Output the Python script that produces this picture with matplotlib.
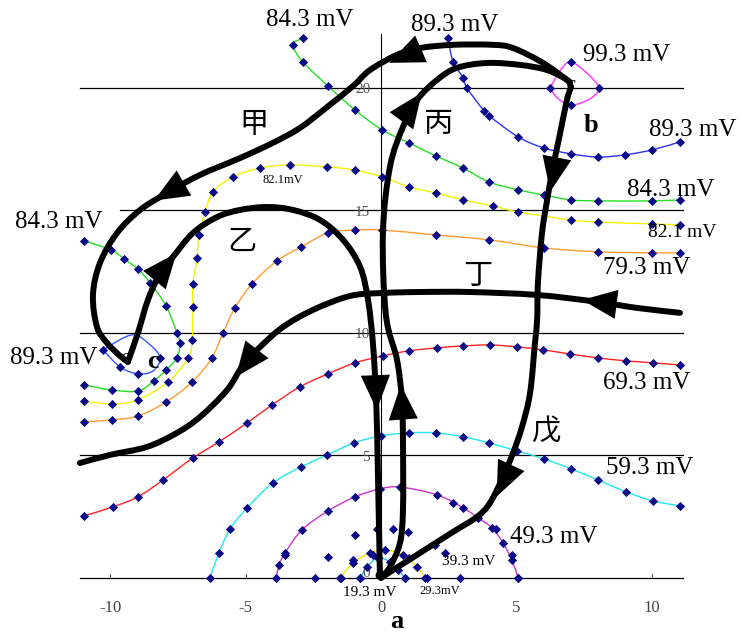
#!/usr/bin/env python3
import matplotlib

matplotlib.use("Agg")

import matplotlib.pyplot as plt
import numpy as np
from matplotlib.patches import PathPatch
from matplotlib.path import Path

plt.rcParams["font.family"] = ["Liberation Serif", "DejaVu Serif"]

# contour curves (x in mm-ish units, y)
blue_top_x = [2.47, 2.66, 3.03, 3.17, 3.80, 3.99, 5.06, 6.01, 7.01, 8.01, 9.00, 10.0, 11.03]
blue_top_y = [22.04, 21.06, 20.41, 20.0, 19.06, 18.86, 18.0, 17.55, 17.31, 17.18, 17.27, 17.47, 17.80]

loop_99_x = [6.24, 6.60, 7.00, 7.60, 8.04, 7.70, 7.00, 6.50, 6.24]
loop_99_y = [20.0, 20.70, 21.06, 20.60, 20.0, 19.55, 19.30, 19.60, 20.0]
loop_99_mx = [7.00, 8.04, 7.00, 6.24]
loop_99_my = [21.06, 20.0, 19.30, 20.0]

green_top_x = [-2.88, -3.25, -2.88, -1.96, -0.96, 0.04, 1.03, 2.03, 3.03, 3.99, 5.06, 6.01, 7.01, 8.01, 10.0, 11.03]
green_top_y = [22.04, 21.76, 21.06, 20.08, 19.10, 18.29, 17.76, 17.22, 16.73, 16.16, 15.84, 15.63, 15.43, 15.39, 15.39, 15.43]

yellow_x = [-10.96, -9.93, -8.97, -7.86, -7.12, -6.97, -6.94, -6.94, -6.79, -6.72, -6.49, -6.20, -5.46,
            -4.46, -3.36, -1.99, -0.96, 0.04, 1.03, 2.03, 3.03, 4.13, 5.06, 7.01, 8.01, 10.0, 11.03]
yellow_y = [7.22, 7.10, 7.27, 8.0, 8.98, 9.71, 11.06, 12.0, 13.06, 14.0, 14.94, 15.76, 16.37,
            16.73, 16.86, 16.78, 16.65, 16.37, 15.96, 15.71, 15.43, 15.18, 14.94, 14.61, 14.53, 14.45, 14.41]

orange_x = [-10.96, -9.93, -8.97, -7.93, -6.97, -6.24, -5.83, -5.39, -4.76, -3.84, -2.95, -1.96, -0.96,
            0.04, 2.03, 3.99, 6.01, 8.01, 10.0, 11.03]
orange_y = [6.37, 6.45, 6.61, 7.18, 8.0, 8.98, 10.0, 11.02, 12.0, 12.94, 13.51, 14.08, 14.20,
            14.20, 14.0, 13.80, 13.47, 13.31, 13.27, 13.27]

green_left_x = [-10.96, -9.96, -9.48, -8.97, -8.52, -7.93, -7.53, -7.42, -7.53, -7.93, -8.38, -8.97, -9.93, -10.96]
green_left_y = [13.76, 13.39, 13.02, 12.61, 12.04, 11.10, 10.0, 9.59, 8.98, 8.49, 8.04, 7.63, 7.67, 7.88]

loop_89_x = [-10.26, -9.19, -8.52, -8.15, -8.41, -8.97, -9.63, -10.26]
loop_89_y = [9.31, 9.92, 9.51, 8.98, 8.45, 8.33, 8.61, 9.31]
loop_89_mx = [-10.26, -9.63, -8.97, -8.15]
loop_89_my = [9.31, 8.61, 8.33, 8.98]

red_x = [-10.96, -9.89, -8.97, -8.04, -6.94, -5.98, -4.94, -4.02, -2.99, -1.96, -0.96, 0.07, 1.03, 2.07,
         3.03, 4.02, 5.02, 5.98, 6.97, 8.01, 9.04, 10.04, 11.03]
red_y = [2.53, 2.90, 3.31, 4.0, 4.90, 5.55, 6.33, 7.06, 7.80, 8.33, 8.78, 9.06, 9.27, 9.39,
         9.47, 9.51, 9.43, 9.31, 9.14, 8.98, 8.86, 8.78, 8.69]

cyan_x = [-6.31, -5.98, -5.57, -4.94, -3.99, -2.95, -1.99, -1.0, 0.0, 1.03, 2.03, 3.03, 3.99, 5.02,
          6.01, 7.01, 8.01, 9.04, 10.04, 11.03]
cyan_y = [0.0, 1.02, 2.0, 2.86, 3.88, 4.53, 5.02, 5.51, 5.80, 5.92, 5.92, 5.76, 5.51, 5.18,
          4.86, 4.45, 4.0, 3.51, 3.14, 2.94]

magenta_x = [-3.87, -3.76, -3.54, -2.92, -1.96, -0.96, -0.04, 0.70, 2.07, 3.03, 3.58, 4.10, 4.50, 4.83, 5.06]
magenta_y = [0.0, 0.53, 1.02, 1.96, 2.73, 3.31, 3.63, 3.71, 3.39, 2.86, 2.45, 2.04, 1.43, 0.73, 0.0]

yellow_small_x = [-1.51, -1.03, -0.41, 0.15, 0.81, 1.33, 1.62]
yellow_small_y = [0.0, 0.61, 1.02, 1.14, 0.94, 0.45, 0.0]

cyan_small_x = [-0.77, -0.52, -0.11, 0.33, 0.63, 0.89]
cyan_small_y = [0.0, 0.45, 0.82, 0.65, 0.33, 0.0]

extra_x = [-1.96, -0.96, -0.15, 0.44, 1.0, -1.03, 1.99, 2.36, 2.92, -2.44, -3.54, -1.48, 1.70, 0.89,
           -0.77, -0.30, 1.03, 2.66, 4.24, 4.83, 5.06]
extra_y = [0.86, 1.76, 2.0, 2.0, 1.88, 0.73, 1.35, 1.02, 0.0, 0.0, 0.94, 0.0, 0.0, 0.0,
           0.0, 0.94, 0.82, 3.06, 2.0, 0.94, 0.0]

# trajectories
jia_x = [6.97, 5.98, 4.87, 4.13, 2.66, 1.44, 0.59, -0.41, -1.03, -1.99, -2.99, -3.99, -5.20, -6.68,
         -7.90, -8.89, -9.74, -10.37, -10.63, -10.48, -10.11, -9.63, -9.34]
jia_y = [20.24, 21.02, 21.63, 21.76, 21.76, 21.63, 21.35, 20.73, 20.08, 19.22, 18.37, 17.76, 17.14, 16.45,
         15.71, 15.02, 14.08, 12.86, 11.55, 10.24, 9.59, 9.06, 8.82]
yi_x = [-9.34, -8.97, -8.60, -8.15, -7.68, -6.94, -6.05, -5.20, -4.21, -3.25, -2.25, -1.40, -0.77,
        -0.48, -0.30, -0.18, -0.11, -0.04]
yi_y = [8.82, 10.0, 11.35, 12.45, 13.10, 14.08, 14.73, 15.02, 15.14, 15.02, 14.61, 13.80, 12.69,
        11.35, 9.59, 7.27, 4.0, 0.04]
bing_x = [0.0, 0.33, 0.70, 0.81, 0.81, 0.77, 0.59, 0.18, 0.07, 0.33, 0.81, 1.33, 2.07, 2.80, 3.91,
          5.13, 6.13, 6.86, 7.01]
bing_y = [0.0, 0.45, 1.43, 2.78, 5.51, 7.27, 8.90, 10.73, 14.08, 16.78, 18.41, 19.51, 20.33, 20.82, 21.02,
          20.94, 20.73, 20.33, 20.04]
wu_x = [7.01, 6.86, 6.61, 6.35, 6.13, 5.94, 5.79, 5.76, 5.68, 5.50, 5.20, 4.87, 4.50, 4.02, 3.54,
        2.66, 1.44, 0.33, 0.0]
wu_y = [20.04, 19.51, 18.16, 16.78, 15.43, 14.08, 12.04, 10.53, 9.59, 7.55, 6.16, 5.10, 4.12, 3.06, 2.49,
        1.88, 1.02, 0.24, 0.0]
ding_x = [11.03, 9.45, 7.97, 5.76, 3.28, 1.44, 0.07, -1.14, -2.51, -3.62, -4.46, -5.09, -5.68, -6.68,
          -7.53, -8.63, -10.0, -11.11]
ding_y = [10.82, 11.02, 11.27, 11.55, 11.67, 11.67, 11.63, 11.51, 10.94, 10.24, 9.43, 8.69, 7.67, 6.57,
          5.92, 5.35, 5.02, 4.69]

jia_arrows = [(0.81, 21.27), (-7.90, 15.71)]
yi_arrows = [(-7.90, 12.78), (-0.18, 7.47)]
bing_arrows = [(0.77, 7.27), (1.18, 19.31)]
wu_arrows = [(6.35, 16.37), (4.50, 3.88)]
ding_arrows = [(7.97, 11.27), (-5.02, 8.69)]

grid_levels = [0, 5, 10, 15, 20]
grid_left = [-11.1, -11.1, -11.1, -9.65, -11.1]
x_ticks = [-10, -5, 0, 5, 10]
y_tick_labels = ["0", "5", "10", "15", "20"]

MARKER = "#0b0b8a"


def smooth_path(xs, ys):
    pts = np.column_stack([xs, ys]).astype(float)
    n = len(pts)
    verts = [pts[0]]
    codes = [Path.MOVETO]
    for i in range(n - 1):
        p0 = pts[i - 1] if i > 0 else pts[i]
        p1 = pts[i]
        p2 = pts[i + 1]
        p3 = pts[i + 2] if i + 2 < n else pts[i + 1]
        verts += [p1 + (p2 - p0) / 6.0, p2 - (p3 - p1) / 6.0, p2]
        codes += [Path.CURVE4] * 3
    return Path(verts, codes)


def draw_curve(ax, xs, ys, color, lw=1.0, zorder=2):
    ax.add_patch(PathPatch(smooth_path(xs, ys), fill=False, edgecolor=color, lw=lw, zorder=zorder,
                           capstyle="round", joinstyle="round"))


def draw_arrows(ax, xs, ys, arrows):
    disp = ax.transData.transform(np.column_stack([xs, ys]))
    inv = ax.transData.inverted()
    for ax_, ay_ in arrows:
        c = ax.transData.transform((ax_, ay_))
        i = int(np.argmin(np.hypot(disp[:, 0] - c[0], disp[:, 1] - c[1])))
        a = disp[max(i - 1, 0)]
        b = disp[min(i + 1, len(disp) - 1)]
        d = (b - a) / np.hypot(*(b - a))
        tip = inv.transform(c + d * 15)
        tail = inv.transform(c - d * 26)
        ax.annotate("", xy=tip, xytext=tail, zorder=6,
                    arrowprops=dict(arrowstyle="-|>,head_length=2.5,head_width=1.05", mutation_scale=10,
                                    color="black", lw=0, shrinkA=0, shrinkB=0))


fig = plt.figure(figsize=(7.42, 6.34), dpi=100)
ax = fig.add_axes([0, 0, 1, 1])
ax.set_xlim(-14.06, 13.32)
ax.set_ylim(-2.29, 23.59)
ax.axis("off")

for level, left in zip(grid_levels, grid_left):
    ax.plot([left, 11.15], [level, level], color="black", lw=0.9, zorder=1)
ax.plot([0, 0], [0, 22.2], color="black", lw=0.8, zorder=1)
for xt in x_ticks:
    if xt != 0:
        ax.plot([xt, xt], [0, 0.16], color="#555555", lw=0.8, zorder=1)
    ax.text(xt, -1.22, f"{xt}", ha="center", va="center", fontsize=12, color="#444444")
for level, lab in zip(grid_levels, y_tick_labels):
    ax.text(-0.4, level - 0.08 + (0.25 if level == 0 else 0), lab, ha="right", va="center",
            fontsize=11, color="#555555")

curves = [
    (blue_top_x, blue_top_y, "#3030ff"),
    (green_top_x, green_top_y, "#22e022"),
    (yellow_x, yellow_y, "#f2f200"),
    (orange_x, orange_y, "#ff9a30"),
    (green_left_x, green_left_y, "#22e022"),
    (red_x, red_y, "#ff2222"),
    (cyan_x, cyan_y, "#20e8f0"),
    (magenta_x, magenta_y, "#cc33cc"),
    (yellow_small_x, yellow_small_y, "#eeee00"),
    (cyan_small_x, cyan_small_y, "#30c8d0"),
]
msize = 22
for xs, ys, color in curves:
    draw_curve(ax, xs, ys, color)
    ax.scatter(xs, ys, marker="D", s=msize, color=MARKER, zorder=3, linewidths=0)
draw_curve(ax, loop_99_x, loop_99_y, "#ff33ff")
ax.scatter(loop_99_mx, loop_99_my, marker="D", s=msize, color=MARKER, zorder=3, linewidths=0)
draw_curve(ax, loop_89_x, loop_89_y, "#3355ff")
ax.scatter(loop_89_mx, loop_89_my, marker="D", s=msize, color=MARKER, zorder=3, linewidths=0)
ax.scatter(extra_x, extra_y, marker="D", s=msize, color=MARKER, zorder=3, linewidths=0)

for xs, ys, arrows in [(jia_x, jia_y, jia_arrows), (yi_x, yi_y, yi_arrows), (bing_x, bing_y, bing_arrows),
                       (wu_x, wu_y, wu_arrows), (ding_x, ding_y, ding_arrows)]:
    draw_curve(ax, xs, ys, "black", lw=4.3, zorder=4)
    draw_arrows(ax, xs, ys, arrows)

big = 18
labels = [
    (-2.62, 22.78, "84.3 mV", big), (2.73, 22.57, "89.3 mV", big), (9.08, 21.35, "99.3 mV", big),
    (11.51, 18.29, "89.3 mV", big), (10.70, 15.84, "84.3 mV", big), (11.11, 14.08, "82.1 mV", 14),
    (9.82, 12.65, "79.3 mV", big), (-11.88, 14.53, "84.3 mV", big), (-3.62, 16.24, "82.1mV", 9),
    (-12.07, 8.98, "89.3 mV", big), (9.82, 7.96, "69.3 mV", big), (9.93, 4.49, "59.3 mV", big),
    (6.38, 1.67, "49.3 mV", big), (3.25, 0.65, "39.3 mV", 11), (2.18, -0.53, "29.3mV", 9),
    (-0.41, -0.60, "19.3 mV", 11),
]
for x, y, s, fs in labels:
    ax.text(x, y, s, ha="center", va="center", fontsize=fs, zorder=7)

for x, y, s in [(7.75, 18.45, "b"), (-8.41, 8.82, "c"), (0.59, -1.80, "a")]:
    ax.text(x, y, s, ha="center", va="center", fontsize=19, fontweight="bold", zorder=7)
for x, y in [(-9.45, 9.0), (7.0, 20.15), (-0.1, 0.15)]:
    ax.text(x, y, "c", ha="center", va="center", fontsize=14, style="italic", zorder=7)

for x, y, s in [(-4.69, 18.49, "甲"), (-5.13, 13.71, "乙"), (2.14, 18.53, "丙"), (3.58, 12.33, "丁"),
                (6.09, 5.92, "戊")]:
    ax.text(x, y, s, ha="center", va="center", fontsize=21, family=["Noto Sans CJK SC"], zorder=7)

fig.savefig("out.png", dpi=100)
